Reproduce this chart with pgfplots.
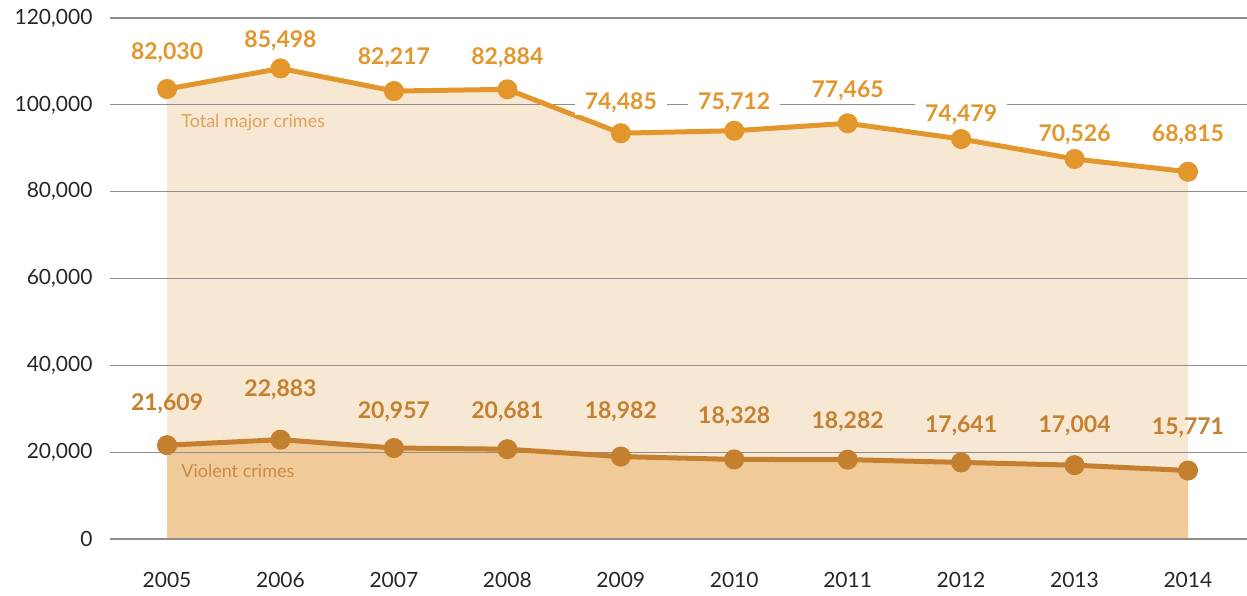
\documentclass[border=0pt]{standalone}
\usepackage{pgfplots}
\usepackage{pgfplotstable}
\pgfplotsset{compat=1.18}
\usepackage{fontspec}
\setmainfont{Lato}
\definecolor{totline}{HTML}{E3962B}
\definecolor{violine}{HTML}{C4802E}
\definecolor{totfill}{HTML}{F7E8D4}
\definecolor{viofill}{HTML}{F0CB99}
\definecolor{gridc}{HTML}{8E8E8E}
\definecolor{totlab}{HTML}{E0A257}
\definecolor{violab}{HTML}{C98A45}

% x = year, v = violent crimes, m = other major crimes, t = stacked total (v+m)
\pgfplotstableread{
x v m t
2005 21609 82030 103639
2006 22883 85498 108381
2007 20957 82217 103174
2008 20681 82884 103565
2009 18982 74485 93467
2010 18328 75712 94040
2011 18282 77465 95747
2012 17641 74479 92120
2013 17004 70526 87530
2014 15771 68815 84586
}\crimes

% label positions (axis units) and texts
\pgfplotstableread{
x ly lab
2005 111930 82,030
2006 114690 85,498
2007 110780 82,217
2008 110780 82,884
2009 100420 74,485
2010 100420 75,712
2011 103180 77,465
2012 97830 74,479
2013 93050 70,526
2014 93050 68,815
}\totlabels

\pgfplotstableread{
x ly lab
2005 31090 21,609
2006 34320 22,883
2007 29250 20,957
2008 29250 20,681
2009 29250 18,982
2010 28100 18,328
2011 26950 18,282
2012 26030 17,641
2013 26030 17,004
2014 25570 15,771
}\violabels

\begin{document}
\begin{tikzpicture}
\path[use as bounding box] (-110pt,-56pt) rectangle (1137pt,539pt);
\begin{axis}[
  at={(0,0)}, anchor=south west,
  scale only axis,
  width=1137pt, height=521pt,
  xmin=2004.497, xmax=2014.52,
  ymin=0, ymax=120000,
  axis line style={draw=none},
  major tick length=0pt,
  xtick={2005,...,2014},
  ytick={0,20000,40000,60000,80000,100000,120000},
  scaled y ticks=false,
  /pgf/number format/assume math mode=true,
  yticklabel style={/pgf/number format/fixed, /pgf/number format/1000 sep={,}, xshift=-14pt},
  xticklabel style={/pgf/number format/1000 sep={}, yshift=-30pt},
  ticklabel style={font=\fontsize{21}{25}\selectfont, text=black!85},
  clip=false,
]
% stacked areas
\addplot[fill=totfill, draw=none] table[x=x, y=t] {\crimes} \closedcycle;
\addplot[fill=viofill, draw=none] table[x=x, y=v] {\crimes} \closedcycle;
% gridlines above the fills
\addplot[gridc, line width=1.1pt] coordinates {(2004.497,0) (2014.52,0)};
\addplot[gridc, line width=1.1pt] coordinates {(2004.497,20000) (2014.52,20000)};
\addplot[gridc, line width=1.1pt] coordinates {(2004.497,40000) (2014.52,40000)};
\addplot[gridc, line width=1.1pt] coordinates {(2004.497,60000) (2014.52,60000)};
\addplot[gridc, line width=1.1pt] coordinates {(2004.497,80000) (2014.52,80000)};
\addplot[gridc, line width=1.1pt] coordinates {(2004.497,100000) (2014.52,100000)};
\addplot[gridc, line width=1.1pt] coordinates {(2004.497,120000) (2014.52,120000)};
% lines
\addplot[totline, line width=5pt, mark=*, mark size=7.5pt, mark options={fill=totline, draw=none}] table[x=x, y=t] {\crimes};
\addplot[violine, line width=5pt, mark=*, mark size=7.5pt, mark options={fill=violine, draw=none}] table[x=x, y=v] {\crimes};
% value labels
\addplot[draw=none, mark=none, nodes near coords, point meta=explicit symbolic,
  nodes near coords style={anchor=center, fill=white, inner xsep=10pt, inner ysep=2pt, text=totline, font=\fontsize{23}{27}\selectfont\bfseries}]
  table[x=x, y=ly, meta=lab] {\totlabels};
\addplot[draw=none, mark=none, nodes near coords, point meta=explicit symbolic,
  nodes near coords style={anchor=center, text=violine, font=\fontsize{23}{27}\selectfont\bfseries}]
  table[x=x, y=ly, meta=lab] {\violabels};
% series names
\node[anchor=west, text=totlab, font=\fontsize{18}{21}\selectfont, inner sep=0pt] at (axis cs:2005.124,96040) {Total major crimes};
\node[anchor=west, text=violab, font=\fontsize{18}{21}\selectfont, inner sep=0pt] at (axis cs:2005.124,15660) {Violent crimes};
\end{axis}
\end{tikzpicture}
\end{document}
